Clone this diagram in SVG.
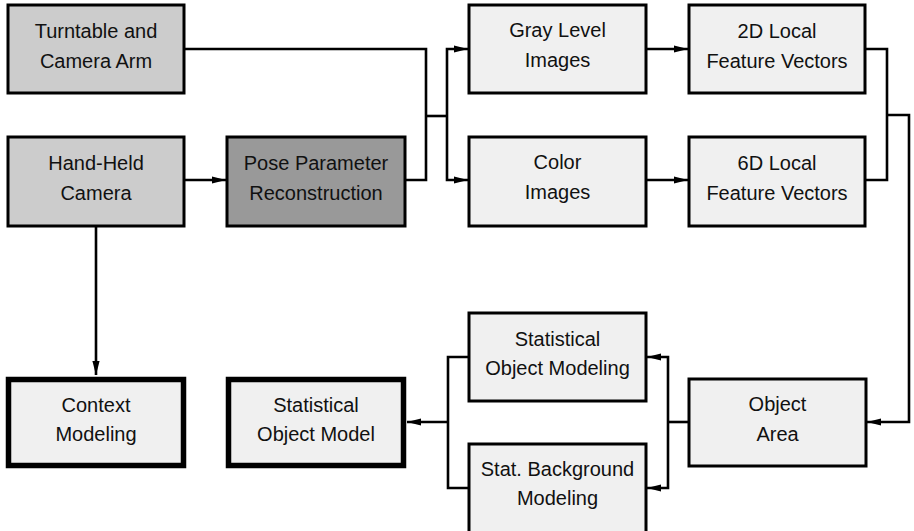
<svg xmlns="http://www.w3.org/2000/svg" width="914" height="531" viewBox="0 0 914 531">
<style>
.box{stroke:#000;stroke-width:3}
.thick{stroke:#000;stroke-width:5.5}
.light{fill:#f0f0f0}
.mid{fill:#cccccc}
.dark{fill:#999999}
text{font-family:"Liberation Sans",Arial,Helvetica,sans-serif;font-size:20px;fill:#111;text-anchor:middle}
.conn path{fill:none;stroke:#000;stroke-width:2.6}
</style>
<defs>
<marker id="ah" markerUnits="userSpaceOnUse" markerWidth="16" markerHeight="10" viewBox="-15 -5 16 10" refX="0" refY="0" orient="auto">
<path d="M0,0 L-14,-3.6 L-14,3.6 Z" fill="#000"/>
</marker>
</defs>
<rect width="914" height="531" fill="#fff"/>
<g class="conn">
<path d="M184,49 H426 V180 H405"/>
<path d="M426,116 H447"/>
<path d="M447,116 V49 H468" marker-end="url(#ah)"/>
<path d="M447,116 V180 H468" marker-end="url(#ah)"/>
<path d="M646,49 H688" marker-end="url(#ah)"/>
<path d="M646,180 H688" marker-end="url(#ah)"/>
<path d="M865,49 H887 V180 H865"/>
<path d="M887,115 H909 V422 H867" marker-end="url(#ah)"/>
<path d="M184,180 H226" marker-end="url(#ah)"/>
<path d="M96,226 V375" marker-end="url(#ah)"/>
<path d="M689,422 H668"/>
<path d="M668,422 V357 H647" marker-end="url(#ah)"/>
<path d="M668,422 V488 H647" marker-end="url(#ah)"/>
<path d="M469,357 H448 V488 H469"/>
<path d="M448,422 H407" marker-end="url(#ah)"/>
</g>
<g id="turntable"><rect class="box mid" x="8" y="5" width="176" height="88"/><text x="96" y="38">Turntable and</text><text x="96" y="68">Camera Arm</text></g>
<g id="handheld"><rect class="box mid" x="8" y="137" width="176" height="89"/><text x="96" y="170">Hand-Held</text><text x="96" y="200">Camera</text></g>
<g id="pose"><rect class="box dark" x="227" y="137" width="178" height="89"/><text x="316" y="170">Pose Parameter</text><text x="316" y="200">Reconstruction</text></g>
<g id="gray"><rect class="box light" x="469" y="5" width="177" height="88"/><text x="557.5" y="37">Gray Level</text><text x="557.5" y="67">Images</text></g>
<g id="color"><rect class="box light" x="469" y="137" width="177" height="89"/><text x="557.5" y="169">Color</text><text x="557.5" y="199">Images</text></g>
<g id="f2d"><rect class="box light" x="689" y="5" width="176" height="88"/><text x="777" y="38">2D Local</text><text x="777" y="68">Feature Vectors</text></g>
<g id="f6d"><rect class="box light" x="689" y="137" width="176" height="89"/><text x="777" y="170">6D Local</text><text x="777" y="200">Feature Vectors</text></g>
<g id="context"><rect class="thick light" x="8.5" y="379.5" width="175" height="86"/><text x="96" y="412">Context</text><text x="96" y="441">Modeling</text></g>
<g id="som"><rect class="thick light" x="228.5" y="379.5" width="175" height="86"/><text x="316" y="412">Statistical</text><text x="316" y="441">Object Model</text></g>
<g id="sommod"><rect class="box light" x="469" y="313" width="177" height="88"/><text x="557.5" y="346">Statistical</text><text x="557.5" y="375">Object Modeling</text></g>
<g id="bgmod"><rect class="box light" x="469" y="444" width="177" height="90"/><text x="557.5" y="476">Stat. Background</text><text x="557.5" y="505">Modeling</text></g>
<g id="area"><rect class="box light" x="689" y="379" width="177" height="87"/><text x="777.5" y="411">Object</text><text x="777.5" y="441">Area</text></g>
</svg>
